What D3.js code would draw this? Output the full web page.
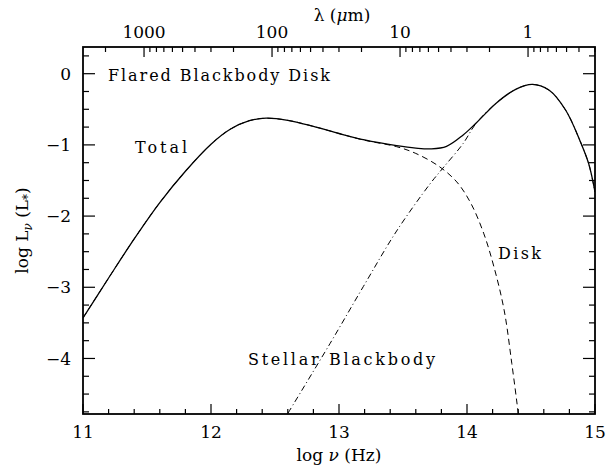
<!DOCTYPE html>
<html lang="en">
  <head>
    <meta charset="utf-8">
    <title>Flared Blackbody Disk SED</title>
    <script src="https://d3js.org/d3.v7.js"></script>
    <style>
      body { margin: 0; background: white; }
      text { font-family: "DejaVu Serif", serif; fill: black; }
    </style>
  </head>
  <body>
    <script type="text/javascript">

      // data (log nu in Hz, log L_nu in L_star)
      const totalX = [11.0, 11.2, 11.4, 11.6, 11.8, 12.0, 12.15, 12.3, 12.43, 12.6, 12.8, 13.0, 13.2, 13.45, 13.6, 13.72, 13.84, 13.97, 14.07, 14.23, 14.38, 14.51, 14.64, 14.77, 14.88, 14.95, 15.0];
      const totalY = [-3.43, -2.87, -2.32, -1.81, -1.37, -0.99, -0.78, -0.66, -0.625, -0.655, -0.74, -0.84, -0.93, -1.01, -1.045, -1.056, -1.02, -0.86, -0.695, -0.41, -0.22, -0.15, -0.23, -0.51, -0.93, -1.26, -1.66];

      const diskX = [11.0, 11.2, 11.4, 11.6, 11.8, 12.0, 12.15, 12.3, 12.43, 12.6, 12.8, 13.0, 13.2, 13.45, 13.60, 13.78, 13.92, 14.03, 14.13, 14.21, 14.29, 14.35, 14.40, 14.41];
      const diskY = [-3.43, -2.87, -2.32, -1.81, -1.37, -0.99, -0.78, -0.66, -0.625, -0.655, -0.74, -0.84, -0.935, -1.025, -1.12, -1.30, -1.52, -1.82, -2.24, -2.71, -3.32, -4.07, -4.77, -4.95];

      const starX = [12.55, 12.93, 13.19, 13.45, 13.71, 13.81, 13.97, 14.07, 14.23, 14.38, 14.51, 14.64, 14.77, 14.88, 14.95, 15.0];
      const starY = [-4.92, -3.79, -2.99, -2.21, -1.55, -1.33, -0.98, -0.70, -0.41, -0.22, -0.15, -0.23, -0.51, -0.93, -1.26, -1.66];

      const xTicks = [11, 12, 13, 14, 15];
      const yTicks = [0, -1, -2, -3, -4];
      const lambdaTicks = [1000, 100, 10, 1];
      const lambdaLabels = ["1000", "100", "10", "1"];

      const w = 608;
      const h = 468;
      const margin = {top: 47, right: 13, bottom: 54, left: 83};
      const innerWidth = w - margin.left - margin.right;
      const innerHeight = h - margin.top - margin.bottom;

      const xScale = d3.scaleLinear().domain([11, 15]).range([0, innerWidth]);
      const yScale = d3.scaleLinear().domain([-4.78, 0.375]).range([innerHeight, 0]);

      // top axis: lambda in micron, log nu = log(c / lambda)
      const c = 2.998e14;
      const lamX = lam => xScale(Math.log10(c / lam));

      const svg = d3.select("body")
        .append("svg")
        .attr("width", w)
        .attr("height", h);

      svg.append("rect")
        .attr("width", w)
        .attr("height", h)
        .attr("fill", "white");

      const plot = svg.append("g")
        .attr("id", "plot")
        .attr("transform", `translate(${margin.left}, ${margin.top})`);

      plot.append("clipPath")
        .attr("id", "clip")
        .append("rect")
        .attr("width", innerWidth)
        .attr("height", innerHeight);

      // ticks
      const xMinor = d3.range(11, 15.001, 0.2);
      const yMinor = d3.range(-4.75, 0.3, 0.25);
      const lamMinor = [];
      [1000, 100, 10, 1, 0.1].forEach(dec => {
        for (let k = 2; k <= 9; k++) {
          const v = dec * k;
          const lx = Math.log10(c / v);
          if (lx >= 11 && lx <= 15) lamMinor.push(v);
        }
      });

      const ticks = plot.append("g")
        .attr("stroke", "black")
        .attr("stroke-width", 1.2);

      xMinor.forEach(v => {
        const major = xTicks.some(t => Math.abs(t - v) < 1e-6);
        const len = major ? 10 : 5;
        ticks.append("line")
          .attr("x1", xScale(v)).attr("x2", xScale(v))
          .attr("y1", innerHeight).attr("y2", innerHeight - len);
      });

      yMinor.forEach(v => {
        const major = yTicks.some(t => Math.abs(t - v) < 1e-6);
        const len = major ? 12 : 6;
        ticks.append("line")
          .attr("x1", 0).attr("x2", len)
          .attr("y1", yScale(v)).attr("y2", yScale(v));
        ticks.append("line")
          .attr("x1", innerWidth).attr("x2", innerWidth - len)
          .attr("y1", yScale(v)).attr("y2", yScale(v));
      });

      lambdaTicks.forEach(v => {
        ticks.append("line")
          .attr("x1", lamX(v)).attr("x2", lamX(v))
          .attr("y1", 0).attr("y2", 10);
      });
      lamMinor.forEach(v => {
        ticks.append("line")
          .attr("x1", lamX(v)).attr("x2", lamX(v))
          .attr("y1", 0).attr("y2", 5);
      });

      // curves
      const line = d3.line()
        .x(d => xScale(d[0]))
        .y(d => yScale(d[1]))
        .curve(d3.curveCatmullRom.alpha(0.5));

      const curves = plot.append("g").attr("clip-path", "url(#clip)");

      curves.append("path")
        .datum(starX.map((x, i) => [x, starY[i]]))
        .attr("d", line)
        .attr("fill", "none")
        .attr("stroke", "black")
        .attr("stroke-width", 1)
        .attr("stroke-dasharray", "6,3,1,3");

      curves.append("path")
        .datum(diskX.map((x, i) => [x, diskY[i]]))
        .attr("d", line)
        .attr("fill", "none")
        .attr("stroke", "black")
        .attr("stroke-width", 1)
        .attr("stroke-dasharray", "6,4");

      curves.append("path")
        .datum(totalX.map((x, i) => [x, totalY[i]]))
        .attr("d", line)
        .attr("fill", "none")
        .attr("stroke", "black")
        .attr("stroke-width", 1.3);

      // frame
      plot.append("rect")
        .attr("width", innerWidth)
        .attr("height", innerHeight)
        .attr("fill", "none")
        .attr("stroke", "black")
        .attr("stroke-width", 1.8);

      // tick labels
      plot.selectAll("text.xlab")
        .data(xTicks)
        .enter()
        .append("text")
        .attr("x", d => xScale(d))
        .attr("y", innerHeight + 24)
        .attr("text-anchor", "middle")
        .attr("font-size", 17)
        .text(d => d);

      plot.selectAll("text.ylab")
        .data(yTicks)
        .enter()
        .append("text")
        .attr("x", -12)
        .attr("y", d => yScale(d))
        .attr("dy", "0.36em")
        .attr("text-anchor", "end")
        .attr("font-size", 17)
        .text(d => d === 0 ? "0" : "\u2212" + Math.abs(d));

      plot.selectAll("text.lamlab")
        .data(lambdaTicks)
        .enter()
        .append("text")
        .attr("x", d => lamX(d))
        .attr("y", -9)
        .attr("text-anchor", "middle")
        .attr("font-size", 17)
        .text((d, i) => lambdaLabels[i]);

      // axis titles
      const xt = svg.append("text")
        .attr("x", margin.left + innerWidth / 2)
        .attr("y", 461)
        .attr("text-anchor", "middle")
        .attr("font-size", 17);
      xt.append("tspan").text("log ");
      xt.append("tspan").attr("font-style", "italic").text("\u03bd");
      xt.append("tspan").text(" (Hz)");

      const lt = svg.append("text")
        .attr("x", 342)
        .attr("y", 21)
        .attr("text-anchor", "middle")
        .attr("font-size", 17);
      lt.append("tspan").text("\u03bb (");
      lt.append("tspan").attr("font-style", "italic").text("\u03bc");
      lt.append("tspan").text("m)");

      const yt = svg.append("text")
        .attr("transform", `translate(28, ${margin.top + innerHeight / 2}) rotate(-90)`)
        .attr("text-anchor", "middle")
        .attr("font-size", 17);
      yt.append("tspan").text("log L");
      yt.append("tspan").attr("font-size", 12).attr("dy", 4).attr("font-style", "italic").text("\u03bd");
      yt.append("tspan").attr("dy", -4).text(" (L");
      yt.append("tspan").attr("font-size", 12).attr("dy", 4).text("*");
      yt.append("tspan").attr("dy", -4).text(")");

      // in-plot labels
      const notes = [
        {t: "Flared Blackbody Disk", x: 108, y: 81, len: 222},
        {t: "Total", x: 135, y: 153, len: 52},
        {t: "Disk", x: 498, y: 259, len: 43},
        {t: "Stellar Blackbody", x: 248, y: 365, len: 187}
      ];
      svg.selectAll("text.note")
        .data(notes)
        .enter()
        .append("text")
        .attr("x", d => d.x)
        .attr("y", d => d.y)
        .attr("font-size", 16)
        .attr("textLength", d => d.len)
        .attr("lengthAdjust", "spacing")
        .text(d => d.t);

    </script>
  </body>
</html>
